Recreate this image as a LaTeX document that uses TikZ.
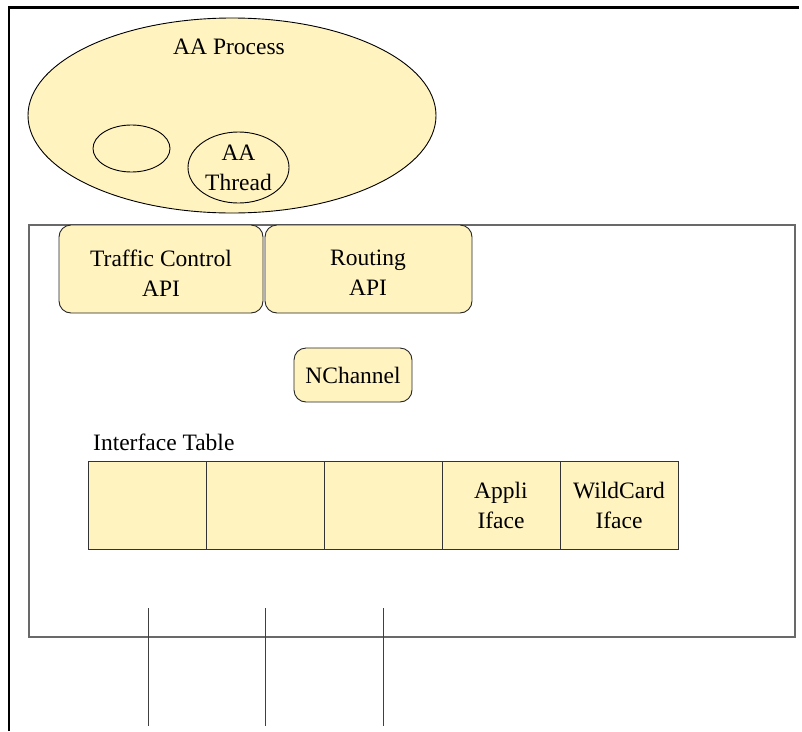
\documentclass[tikz,border=0pt]{standalone}
\usepackage{fontspec}
\setmainfont{Liberation Serif}
\usetikzlibrary{shapes.geometric}
\definecolor{paleyellow}{RGB}{255,243,192}
\definecolor{frameline}{RGB}{105,105,105}
\tikzset{
  txt/.style={font=\rmfamily\fontsize{23.5}{30}\selectfont},
  lbl/.style={txt, align=center, inner sep=0pt},
  blob/.style={ellipse, draw=black, line width=0.9pt, fill=paleyellow, inner sep=0pt, outer sep=0pt},
  apibox/.style={draw=black!85, line width=0.9pt, fill=paleyellow, rounded corners=12pt,
                 inner sep=0pt, outer sep=0pt, align=center, txt},
  cell/.style={draw=black!80, line width=0.9pt, fill=paleyellow, minimum width=118pt,
               minimum height=88pt, inner sep=0pt, outer sep=0pt, align=center, txt},
  wire/.style={draw=black!75, line width=0.9pt},
}
\begin{document}
\begin{tikzpicture}[x=1pt,y=-1pt]
\useasboundingbox (0,0) rectangle (802,731);

% outer frame edges
\draw[line width=2.5pt] (9,731) -- (9,7.5) -- (799,7.5);

% AA process with its threads
\node[blob, minimum width=408pt, minimum height=195pt] (proc) at (232,115.5) {};
\node[lbl] (proctxt) at (229,47) {AA Process};
\node[blob, minimum width=77pt, minimum height=47pt] (thrA) at (131.5,148.5) {};
\node[blob, minimum width=101pt, minimum height=71pt, lbl] (thrB) at (238.5,167.5) {AA\\Thread};

% node container
\node[draw=frameline, line width=1.2pt, minimum width=766pt, minimum height=412pt,
      inner sep=0pt, outer sep=0pt] (box) at (412,431) {};

% APIs
\node[apibox, minimum width=204pt, minimum height=88pt] (tc) at (161,269) {};
\node[lbl] (tctxt) at (161,273) {Traffic Control\\API};
\node[apibox, minimum width=207pt, minimum height=88pt] (rt) at (368.5,269) {};
\node[lbl] (rttxt) at (368,273) {Routing\\API};
\node[apibox, minimum width=118pt, minimum height=54pt] (nch) at (353,375) {NChannel};

% interface table
\node[lbl, anchor=base west] (ittxt) at (93,450) {Interface Table};
\node[cell] (c1) at (147,505) {};
\node[cell] (c2) at (265,505) {};
\node[cell] (c3) at (383,505) {};
\node[cell] (c4) at (501,505) {Appli\\Iface};
\node[cell] (c5) at (619,505) {WildCard\\Iface};

% links leaving the first three interfaces
\coordinate (l1a) at (148,608); \coordinate (l1b) at (148,726);
\coordinate (l2a) at (265,608); \coordinate (l2b) at (265,726);
\coordinate (l3a) at (383,608); \coordinate (l3b) at (383,726);
\draw[wire] (l1a) -- (l1b);
\draw[wire] (l2a) -- (l2b);
\draw[wire] (l3a) -- (l3b);
\end{tikzpicture}
\end{document}
